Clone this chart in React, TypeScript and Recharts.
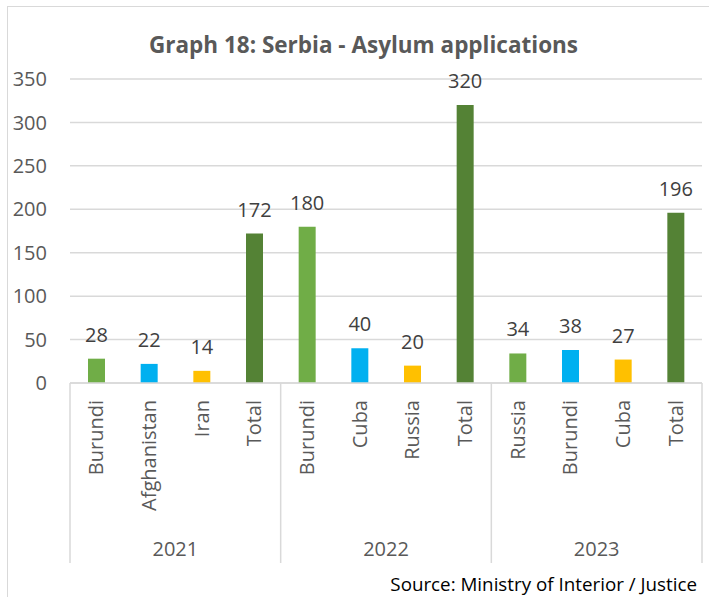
import React from 'react';
import { BarChart, Bar, XAxis, YAxis, CartesianGrid, Cell, LabelList } from 'recharts';

const years = ['2021', '2022', '2023'];
const categories = [
  'Burundi', 'Afghanistan', 'Iran', 'Total',
  'Burundi', 'Cuba', 'Russia', 'Total',
  'Russia', 'Burundi', 'Cuba', 'Total',
];
const values = [28, 22, 14, 172, 180, 40, 20, 320, 34, 38, 27, 196];
const yTicks = [0, 50, 100, 150, 200, 250, 300, 350];
const colors = ['#70AD47', '#00B0F0', '#FFC000', '#548235'];

const data = categories.map((c, i) => ({
  key: `${years[Math.floor(i / 4)]}-${c}-${i}`,
  name: c,
  year: years[Math.floor(i / 4)],
  value: values[i],
}));

const FONT = '"Open Sans", sans-serif';
const GRID = '#d9d9d9';
const PLOT_LEFT = 70;
const PLOT_RIGHT = 702;
const BAND = (PLOT_RIGHT - PLOT_LEFT) / data.length;

function CategoryTick(props: any) {
  const { x, y, index } = props;
  const row = data[index];
  const top = y - 8;
  const left = x - BAND / 2;
  return (
    <g>
      <text
        x={x}
        y={top + 17}
        transform={`rotate(-90, ${x}, ${top + 17})`}
        textAnchor="end"
        dy="0.35em"
        fill="#595959"
        fontSize={20}
        fontFamily={FONT}
      >
        {row.name}
      </text>
      {index % 4 === 0 && (
        <>
          <line x1={left} y1={top} x2={left} y2={563} stroke={GRID} strokeWidth={1.5} />
          <text
            x={left + BAND * 2}
            y={549}
            textAnchor="middle"
            dy="0.35em"
            fill="#595959"
            fontSize={20}
            fontFamily={FONT}
          >
            {row.year}
          </text>
        </>
      )}
      {index === data.length - 1 && (
        <line x1={x + BAND / 2} y1={top} x2={x + BAND / 2} y2={563} stroke={GRID} strokeWidth={1.5} />
      )}
    </g>
  );
}

export default function App() {
  return (
    <div style={{ position: 'absolute', left: 0, top: 0, width: 709, height: 597, background: '#fff', overflow: 'hidden' }}>
      <div
        style={{
          position: 'absolute', left: 7, top: 6, width: 720, height: 620,
          border: '1.5px solid #d9d9d9', boxSizing: 'border-box',
        }}
      />
      <div
        style={{
          position: 'absolute', left: 0, width: 727, top: 29, textAlign: 'center',
          fontFamily: FONT, fontWeight: 700, fontSize: 22.5, color: '#595959', lineHeight: '32px',
        }}
      >
        Graph 18: Serbia - Asylum applications
      </div>
      <BarChart
        width={709}
        height={597}
        data={data}
        margin={{ top: 79, right: 7, left: 8, bottom: 24 }}
        style={{ position: 'absolute', left: 0, top: 0 }}
      >
        <CartesianGrid vertical={false} stroke={GRID} strokeWidth={1.5} />
        <XAxis
          dataKey="key"
          interval={0}
          height={190}
          tickLine={false}
          axisLine={{ stroke: GRID, strokeWidth: 1.5 }}
          tick={<CategoryTick />}
        />
        <YAxis
          width={62}
          domain={[0, 350]}
          ticks={yTicks}
          axisLine={false}
          tickLine={false}
          tickSize={0}
          tickMargin={23}
          tick={{ fill: '#595959', fontSize: 20, fontFamily: FONT }}
        />
        <Bar dataKey="value" barSize={17} isAnimationActive={false}>
          {data.map((d, i) => (
            <Cell key={d.key} fill={colors[i % 4]} />
          ))}
          <LabelList
            dataKey="value"
            position="top"
            offset={17}
            fill="#404040"
            fontSize={20}
            fontFamily={FONT}
          />
        </Bar>
      </BarChart>
      <div
        style={{
          position: 'absolute', right: 12, top: 570, fontFamily: FONT, fontSize: 18.8,
          color: '#000', lineHeight: '28px', whiteSpace: 'nowrap',
        }}
      >
        Source: Ministry of Interior / Justice
      </div>
    </div>
  );
}
